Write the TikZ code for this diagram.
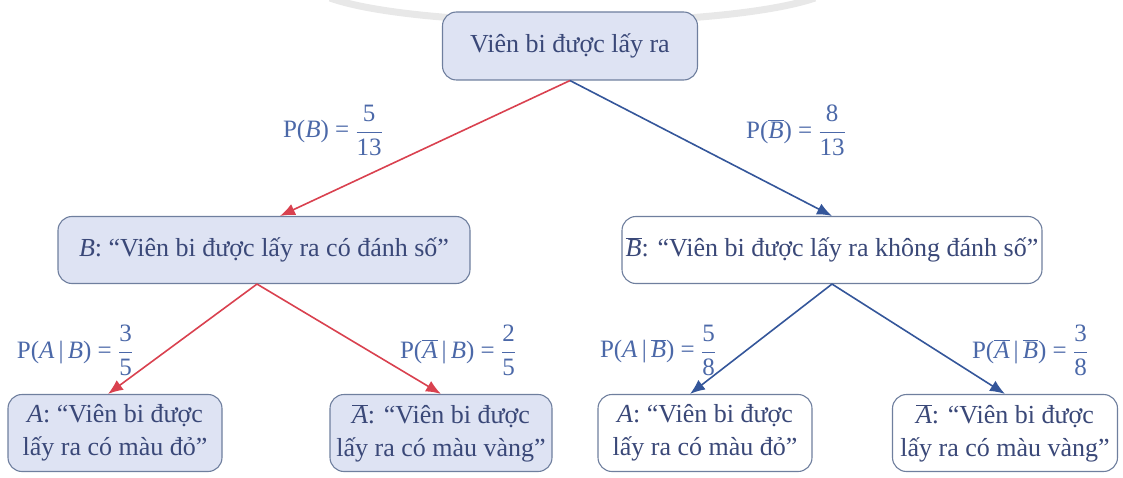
\documentclass[tikz,border=0pt]{standalone}
\usepackage{fontspec}
\setmainfont{Liberation Serif}
\usetikzlibrary{arrows.meta,calc}
\definecolor{boxfill}{HTML}{DEE3F3}
\definecolor{boxline}{HTML}{6F7F9E}
\definecolor{txt}{HTML}{3A4878}
\definecolor{lbl}{HTML}{4B68A8}
\definecolor{redline}{HTML}{D9414F}
\definecolor{blueline}{HTML}{34569A}
\newcommand\fr[2]{\ensuremath{\displaystyle\frac{\hbox{#1}}{\hbox{#2}}}}
\newcommand\ov[1]{\ensuremath{\overline{\hbox{\itshape #1}}}}
\tikzset{
  box/.style={draw=boxline, line width=1.1pt, rounded corners=14pt, text=txt,
    font=\fontsize{26}{33}\selectfont, align=center, inner sep=0pt},
  fbox/.style={box, fill=boxfill},
  wbox/.style={box, fill=white},
  lab/.style={text=lbl, font=\fontsize{25}{30}\selectfont, inner sep=0pt},
  redarr/.style={draw=redline, line width=1.6pt, -{Latex[length=15pt,width=12pt]}},
  bluearr/.style={draw=blueline, line width=1.6pt, -{Latex[length=15pt,width=12pt]}}
}
\begin{document}
\begin{tikzpicture}[x=1pt,y=-1pt]
\useasboundingbox (0,0) rectangle (1123,478);
\draw[gray!18, line width=7pt] (330,-2) .. controls (420,30) and (720,30) .. (815,-2);
\node[fbox, minimum width=255pt, minimum height=68pt] (root) at (570,46) {Viên bi được lấy ra};
\node[fbox, minimum width=412pt, minimum height=67pt] (B) at (264,250) {\textit{B}: “Viên bi được lấy ra có đánh số”};
\node[wbox, minimum width=420pt, minimum height=67pt] (Bn) at (832,250) {\ov{B}: “Viên bi được lấy ra không đánh số”};
\node[fbox, minimum width=214pt, minimum height=77pt] (A1) at (115,433) {\textit{A}: “Viên bi được\\lấy ra có màu đỏ”};
\node[fbox, minimum width=222pt, minimum height=77pt] (An1) at (441,433) {\ov{A}: “Viên bi được\\lấy ra có màu vàng”};
\node[wbox, minimum width=214pt, minimum height=77pt] (A2) at (705,433) {\textit{A}: “Viên bi được\\lấy ra có màu đỏ”};
\node[wbox, minimum width=225pt, minimum height=77pt] (An2) at (1005,433) {\ov{A}: “Viên bi được\\lấy ra có màu vàng”};
\node[lab] (l1) at (333,130) {P(\textit{B}) = \fr{5}{13}};
\node[lab] (l2) at (796,130) {P(\ov{B}) = \fr{8}{13}};
\node[lab] (l3) at (75,350) {P(\textit{A}\,|\,\textit{B}) = \fr{3}{5}};
\node[lab] (l4) at (458,350) {P(\ov{A}\,|\,\textit{B}) = \fr{2}{5}};
\node[lab] (l5) at (658,350) {P(\textit{A}\,|\,\ov{B}) = \fr{5}{8}};
\node[lab] (l6) at (1030,350) {P(\ov{A}\,|\,\ov{B}) = \fr{3}{8}};
\draw[redarr] (root.south) -- ([xshift=16pt]B.north);
\draw[bluearr] (root.south) -- (Bn.north);
\draw[redarr] ([xshift=-7pt]B.south) -- ([xshift=-7pt]A1.north);
\draw[redarr] ([xshift=-7pt]B.south) -- (An1.north);
\draw[bluearr] (Bn.south) -- ([xshift=-15pt]A2.north);
\draw[bluearr] (Bn.south) -- (An2.north);
\end{tikzpicture}
\end{document}
